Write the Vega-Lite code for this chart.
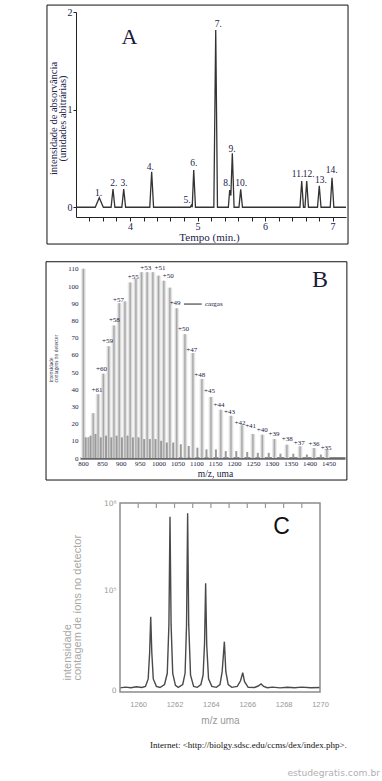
{
"$schema":"https://vega.github.io/schema/vega-lite/v6.json",
"padding":0,
"background":"white",
"spacing":0,
"bounds":"flush",
"config":{"view":{"stroke":null},"axis":{"grid":false,"labelFlush":false,"labelOverlap":false,"titleFontWeight":"normal"}},
"vconcat":[
{
"width":382,"height":250,
"layer":[
{"data":{"values":[
{"t":3.2,"v":0},{"t":3.485,"v":0},{"t":3.545,"v":0.097},{"t":3.605,"v":0},{"t":3.72,"v":0},{"t":3.748,"v":0.186},{"t":3.776,"v":0},{"t":3.879,"v":0},{"t":3.907,"v":0.186},{"t":3.935,"v":0},{"t":4.293,"v":0},{"t":4.321,"v":0.364},{"t":4.349,"v":0},{"t":4.892,"v":0},{"t":4.908,"v":0.02},{"t":4.922,"v":0},{"t":4.944,"v":0.381},{"t":4.97,"v":0},{"t":5.242,"v":0},{"t":5.27,"v":1.815},{"t":5.296,"v":0},{"t":5.457,"v":0},{"t":5.477,"v":0.176},{"t":5.494,"v":0.12},{"t":5.516,"v":0.552},{"t":5.542,"v":0},{"t":5.614,"v":0},{"t":5.64,"v":0.183},{"t":5.666,"v":0},{"t":6.518,"v":0},{"t":6.544,"v":0.268},{"t":6.57,"v":0},{"t":6.592,"v":0},{"t":6.618,"v":0.268},{"t":6.644,"v":0},{"t":6.778,"v":0},{"t":6.804,"v":0.22},{"t":6.83,"v":0},{"t":6.966,"v":0},{"t":6.993,"v":0.302},{"t":7.02,"v":0},{"t":7.2,"v":0}]},
 "mark":{"type":"line","color":"#333","strokeWidth":1.3},
 "encoding":{
 "x":{"field":"t","type":"quantitative","scale":{"domain":[3.2,7.2],"range":[76,346],"nice":false,"zero":false},
  "axis":{"orient":"bottom","offset":-33,"values":[3.4,3.6,3.8,4,4.2,4.4,4.6,4.8,5,5.2,5.4,5.6,5.8,6,6.2,6.4,6.6,6.8,7],"tickCount":100,"labelExpr":"datum.value % 1 == 0 ? format(datum.value, 'd') : ''","labelOverlap":false,"labelFlush":false,"domainColor":"#222","tickColor":"#222","tickSize":4,"labelFont":"Liberation Serif","labelFontSize":10,"labelColor":"#22224a","labelPadding":0,"title":"Tempo (min.)","titleFont":"Liberation Serif","titleFontSize":11,"titleColor":"#22224a","titleX":209,"titleY":20,"titleBaseline":"middle","titleAlign":"center","titleAngle":0}},
 "y":{"field":"v","type":"quantitative","scale":{"domain":[-0.1,2],"range":[217,12],"nice":false,"zero":false},
  "axis":{"orient":"left","offset":-76,"values":[0,1,2],"tickCount":100,"labelExpr":"format(datum.value, 'd')","labelOverlap":false,"labelFlush":false,"tickSize":3,"domainColor":"#222","tickColor":"#222","labelFont":"Liberation Serif","labelFontSize":10,"labelColor":"#22224a","labelPadding":1,"title":["intensidade de absorvância","(unidades abitrárias)"],"titleFont":"Liberation Serif","titleFontSize":10.5,"titleColor":"#22224a","titleLineHeight":9,"titleX":-23,"titleY":118,"titleAngle":270,"titleBaseline":"middle","titleAlign":"center"}}}},
{"data":{"values":[{}]},"mark":{"type":"rect","fillOpacity":0,"stroke":"#111","strokeWidth":1},
 "encoding":{"x":{"datum":2.77,"type":"quantitative","scale":{"domain":[3.2,7.2],"range":[76,346],"nice":false,"zero":false}},"x2":{"datum":7.23},
 "y":{"datum":2.071,"type":"quantitative","scale":{"domain":[-0.1,2],"range":[217,12],"nice":false,"zero":false}},"y2":{"datum":-0.377}}},
{"data":{"values":[
{"lab":"1.","t":3.536,"v":0.145},{"lab":"2.","t":3.759,"v":0.245},{"lab":"3.","t":3.911,"v":0.245},{"lab":"4.","t":4.301,"v":0.415},{"lab":"5.","t":4.844,"v":0.074},{"lab":"6.","t":4.944,"v":0.456},{"lab":"7.","t":5.308,"v":1.877},{"lab":"8.","t":5.433,"v":0.245},{"lab":"9.","t":5.511,"v":0.593},{"lab":"10.","t":5.649,"v":0.245},{"lab":"11.","t":6.482,"v":0.34},{"lab":"12.","t":6.648,"v":0.34},{"lab":"13.","t":6.83,"v":0.279},{"lab":"14.","t":6.988,"v":0.381}]},
 "mark":{"type":"text","font":"Liberation Serif","fontSize":9.5,"color":"#22224a","baseline":"middle","align":"center"},
 "encoding":{"x":{"field":"t","type":"quantitative","scale":{"domain":[3.2,7.2],"range":[76,346],"nice":false,"zero":false}},
 "y":{"field":"v","type":"quantitative","scale":{"domain":[-0.1,2],"range":[217,12],"nice":false,"zero":false}},"text":{"field":"lab"}}},
{"data":{"values":[{"lab":"A","t":3.99,"v":1.747}]},
 "mark":{"type":"text","font":"Liberation Serif","fontSize":22,"color":"#1a1a3a","baseline":"middle","align":"center"},
 "encoding":{"x":{"field":"t","type":"quantitative","scale":{"domain":[3.2,7.2],"range":[76,346],"nice":false,"zero":false}},
 "y":{"field":"v","type":"quantitative","scale":{"domain":[-0.1,2],"range":[217,12],"nice":false,"zero":false}},"text":{"field":"lab"}}}
]
},
{
"width":382,"height":240,
"layer":[
{"data":{"name":"peaks","values":[{"mz":801,"h":110},{"mz":814,"h":12},{"mz":827,"h":26},{"mz":840,"h":37},{"mz":854,"h":49},{"mz":868,"h":65},{"mz":882,"h":77},{"mz":896,"h":90},{"mz":911,"h":91},{"mz":925,"h":102},{"mz":940,"h":104},{"mz":955,"h":108},{"mz":970,"h":108},{"mz":985,"h":108},{"mz":1000,"h":106},{"mz":1014,"h":103},{"mz":1030,"h":99},{"mz":1048,"h":87},{"mz":1070,"h":72},{"mz":1091,"h":61},{"mz":1115,"h":46},{"mz":1139,"h":35.5},{"mz":1165,"h":28},{"mz":1192,"h":24.5},{"mz":1221,"h":19},{"mz":1250,"h":14},{"mz":1275,"h":13.5},{"mz":1307,"h":11},{"mz":1340,"h":7.7},{"mz":1375,"h":6.8},{"mz":1412,"h":5.8},{"mz":1446,"h":4.8}]},
 "mark":{"type":"rule","color":"#ececec","strokeWidth":5},
 "encoding":{"x":{"field":"mz","type":"quantitative","scale":{"domain":[792,1494],"range":[80,345],"nice":false,"zero":false},
  "axis":{"orient":"bottom","offset":-32,"values":[800,850,900,950,1000,1050,1100,1150,1200,1250,1300,1350,1400,1450],"tickCount":100,"format":"d","labelOverlap":false,"labelFlush":false,"ticks":false,"domainColor":"#666","domainWidth":2.5,"labelFont":"Liberation Serif","labelFontSize":7,"labelColor":"#1a1a40","labelPadding":1.5,"title":"m/z, uma","titleFont":"Liberation Serif","titleFontSize":9.5,"titleColor":"#1a1a40","titleX":215,"titleY":15,"titleBaseline":"middle","titleAlign":"center","titleAngle":0}},
 "y":{"field":"h","type":"quantitative","scale":{"domain":[0,110],"range":[208,18.8],"nice":false,"zero":false},
  "axis":{"orient":"left","offset":-80,"values":[0,10,20,30,40,50,60,70,80,90,100,110],"tickCount":100,"format":"d","labelOverlap":false,"labelFlush":false,"ticks":false,"domain":false,"labelFont":"Liberation Serif","labelFontSize":7,"labelColor":"#1a1a40","labelPadding":2,"title":["intensidade","contagens no detector"],"titleFont":"Liberation Serif","titleFontSize":5.5,"titleColor":"#1a1a40","titleLineHeight":4.6,"titleX":-29.3,"titleY":132,"titleAngle":270,"titleAlign":"left","titleBaseline":"middle"}},
 "y2":{"datum":0}}},
{"data":{"values":[{}]},"mark":{"type":"rect","fillOpacity":0,"stroke":"#111","strokeWidth":1},
 "encoding":{"x":{"datum":702,"type":"quantitative","scale":{"domain":[792,1494],"range":[80,345],"nice":false,"zero":false}},"x2":{"datum":1499},
 "y":{"datum":114.1,"type":"quantitative","scale":{"domain":[0,110],"range":[208,18.8],"nice":false,"zero":false}},"y2":{"datum":-12.8}}},
{"data":{"name":"peaks"},"mark":{"type":"rule","color":"#d4d4d4","strokeWidth":3},
 "encoding":{"x":{"field":"mz","type":"quantitative","scale":{"domain":[792,1494],"range":[80,345],"nice":false,"zero":false}},
 "y":{"field":"h","type":"quantitative","scale":{"domain":[0,110],"range":[208,18.8],"nice":false,"zero":false}},"y2":{"datum":0}}},
{"data":{"name":"peaks"},"mark":{"type":"rule","color":"#a8a8a8","strokeWidth":1.3},
 "encoding":{"x":{"field":"mz","type":"quantitative","scale":{"domain":[792,1494],"range":[80,345],"nice":false,"zero":false}},
 "y":{"field":"h","type":"quantitative","scale":{"domain":[0,110],"range":[208,18.8],"nice":false,"zero":false}},"y2":{"datum":0}}},
{"data":{"values":[{"mz":807,"s":12},{"mz":820,"s":13},{"mz":833,"s":14},{"mz":847,"s":12},{"mz":861,"s":13},{"mz":875,"s":12},{"mz":889,"s":13},{"mz":903,"s":12},{"mz":918,"s":13},{"mz":932,"s":12},{"mz":947,"s":12},{"mz":962,"s":11},{"mz":977,"s":11},{"mz":992,"s":11},{"mz":1007,"s":10},{"mz":1022,"s":9},{"mz":1039,"s":9},{"mz":1059,"s":8},{"mz":1080,"s":7},{"mz":1103,"s":6},{"mz":1127,"s":5},{"mz":1152,"s":5},{"mz":1178,"s":4},{"mz":1206,"s":4},{"mz":1235,"s":3.5},{"mz":1263,"s":3},{"mz":1292,"s":3},{"mz":1323,"s":2.5},{"mz":1357,"s":2.5},{"mz":1393,"s":2},{"mz":1430,"s":2}]},
 "mark":{"type":"rule","color":"#9a9a9a","strokeWidth":2},
 "encoding":{"x":{"field":"mz","type":"quantitative","scale":{"domain":[792,1494],"range":[80,345],"nice":false,"zero":false}},
 "y":{"field":"s","type":"quantitative","scale":{"domain":[0,110],"range":[208,18.8],"nice":false,"zero":false}},"y2":{"datum":0}}},
{"data":{"values":[{"lab":"+61","mz":837,"ly":39.5},{"lab":"+60","mz":849,"ly":52},{"lab":"+59","mz":865,"ly":68},{"lab":"+58","mz":883,"ly":80},{"lab":"+57","mz":894,"ly":92},{"lab":"+55","mz":933,"ly":105},{"lab":"+53","mz":966,"ly":110.3},{"lab":"+51","mz":1004,"ly":110.3},{"lab":"+50","mz":1026,"ly":105.6},{"lab":"+49","mz":1044,"ly":90.3},{"lab":"+50","mz":1066,"ly":75.2},{"lab":"+47","mz":1088,"ly":63},{"lab":"+48","mz":1109,"ly":48.4},{"lab":"+45","mz":1135,"ly":38.8},{"lab":"+44","mz":1160,"ly":31},{"lab":"+43","mz":1188,"ly":26.7},{"lab":"+42","mz":1216,"ly":20.5},{"lab":"+41","mz":1244,"ly":18.6},{"lab":"+40","mz":1275,"ly":16.3},{"lab":"+39","mz":1306,"ly":13.8},{"lab":"+38","mz":1341,"ly":11},{"lab":"+37","mz":1373,"ly":8.5},{"lab":"+36","mz":1412,"ly":8.1},{"lab":"+35","mz":1444,"ly":6}]},
 "mark":{"type":"text","font":"Liberation Serif","fontSize":7,"color":"#1a1a40","baseline":"middle","align":"center"},
 "encoding":{"x":{"field":"mz","type":"quantitative","scale":{"domain":[792,1494],"range":[80,345],"nice":false,"zero":false}},
 "y":{"field":"ly","type":"quantitative","scale":{"domain":[0,110],"range":[208,18.8],"nice":false,"zero":false}},"text":{"field":"lab"}}},
{"data":{"values":[{}]},"mark":{"type":"rule","color":"#222","strokeWidth":1},
 "encoding":{"x":{"datum":1067.5,"type":"quantitative","scale":{"domain":[792,1494],"range":[80,345],"nice":false,"zero":false}},"x2":{"datum":1114.4},
 "y":{"datum":89.5,"type":"quantitative","scale":{"domain":[0,110],"range":[208,18.8],"nice":false,"zero":false}}}},
{"data":{"values":[{"lab":"cargas","mz":1123,"ly":89.5}]},
 "mark":{"type":"text","font":"Liberation Serif","fontSize":7,"color":"#1a1a40","baseline":"middle","align":"left"},
 "encoding":{"x":{"field":"mz","type":"quantitative","scale":{"domain":[792,1494],"range":[80,345],"nice":false,"zero":false}},
 "y":{"field":"ly","type":"quantitative","scale":{"domain":[0,110],"range":[208,18.8],"nice":false,"zero":false}},"text":{"field":"lab"}}},
{"data":{"values":[{"lab":"B","mz":1427.8,"ly":103.5}]},
 "mark":{"type":"text","font":"Liberation Serif","fontSize":24,"color":"#1a1a3a","baseline":"middle","align":"center"},
 "encoding":{"x":{"field":"mz","type":"quantitative","scale":{"domain":[792,1494],"range":[80,345],"nice":false,"zero":false}},
 "y":{"field":"ly","type":"quantitative","scale":{"domain":[0,110],"range":[208,18.8],"nice":false,"zero":false}},"text":{"field":"lab"}}}
]
},
{
"width":382,"height":291,
"layer":[
{"data":{"values":[
{"m":1259.0,"i":0.012},{"m":1259.3,"i":0.016},{"m":1259.6,"i":0.013},{"m":1259.9,"i":0.018},{"m":1260.2,"i":0.014},{"m":1260.4,"i":0.02},{"m":1260.55,"i":0.06},{"m":1260.63,"i":0.2},{"m":1260.69,"i":0.392},{"m":1260.75,"i":0.2},{"m":1260.83,"i":0.06},{"m":1261.0,"i":0.02},{"m":1261.2,"i":0.014},{"m":1261.45,"i":0.03},{"m":1261.6,"i":0.09},{"m":1261.69,"i":0.35},{"m":1261.75,"i":0.927},{"m":1261.81,"i":0.35},{"m":1261.9,"i":0.09},{"m":1262.05,"i":0.025},{"m":1262.2,"i":0.015},{"m":1262.45,"i":0.03},{"m":1262.58,"i":0.09},{"m":1262.66,"i":0.35},{"m":1262.72,"i":0.945},{"m":1262.78,"i":0.35},{"m":1262.88,"i":0.08},{"m":1263.05,"i":0.02},{"m":1263.25,"i":0.015},{"m":1263.45,"i":0.03},{"m":1263.57,"i":0.08},{"m":1263.65,"i":0.25},{"m":1263.71,"i":0.571},{"m":1263.77,"i":0.24},{"m":1263.87,"i":0.06},{"m":1264.05,"i":0.02},{"m":1264.3,"i":0.015},{"m":1264.5,"i":0.03},{"m":1264.62,"i":0.1},{"m":1264.74,"i":0.259},{"m":1264.82,"i":0.1},{"m":1264.95,"i":0.03},{"m":1265.15,"i":0.015},{"m":1265.45,"i":0.02},{"m":1265.63,"i":0.05},{"m":1265.75,"i":0.093},{"m":1265.85,"i":0.045},{"m":1266.05,"i":0.015},{"m":1266.4,"i":0.014},{"m":1266.6,"i":0.022},{"m":1266.76,"i":0.033},{"m":1266.9,"i":0.02},{"m":1267.1,"i":0.013},{"m":1267.4,"i":0.016},{"m":1267.8,"i":0.012},{"m":1268.2,"i":0.015},{"m":1268.6,"i":0.013},{"m":1269.0,"i":0.016},{"m":1269.5,"i":0.013},{"m":1270.0,"i":0.014}]},
 "mark":{"type":"line","color":"#4a4a4a","strokeWidth":1.4},
 "encoding":{"x":{"field":"m","type":"quantitative","scale":{"domain":[1259,1270],"range":[120,320],"nice":false,"zero":false},
  "axis":{"orient":"bottom","offset":-89,"values":[1260,1262,1264,1266,1268,1270],"tickCount":100,"format":"d","labelOverlap":false,"labelFlush":false,"ticks":false,"domain":false,"labelFont":"Liberation Sans","labelFontSize":7.5,"labelColor":"#999","labelPadding":8,"title":"m/z uma","titleFont":"Liberation Sans","titleFontSize":10,"titleColor":"#999","titleX":220,"titleY":28,"titleBaseline":"middle","titleAlign":"center","titleAngle":0}},
 "y":{"field":"i","type":"quantitative","scale":{"domain":[-0.01,1],"range":[202,13],"nice":false,"zero":false},
  "axis":{"orient":"left","offset":-120,"values":[0,0.53,1],"tickCount":100,"labelExpr":"datum.value == 0 ? '0' : (datum.value == 1 ? '10⁸' : '10⁵')","labelOverlap":false,"labelFlush":false,"ticks":false,"domain":false,"labelFont":"DejaVu Sans","labelFontSize":7.5,"labelColor":"#999","labelPadding":4,"title":["intensidade","contagem de íons no detector"],"titleFont":"Liberation Sans","titleFontSize":11,"titleColor":"#a8a8a8","titleLineHeight":10,"titleX":-53,"titleY":190,"titleAngle":270,"titleAlign":"left","titleBaseline":"middle"}}}},
{"data":{"values":[{}]},"mark":{"type":"rect","fillOpacity":0,"stroke":"#8c8c8c","strokeWidth":1.5},
 "encoding":{"x":{"datum":1259,"type":"quantitative","scale":{"domain":[1259,1270],"range":[120,320],"nice":false,"zero":false}},"x2":{"datum":1270},
 "y":{"datum":1,"type":"quantitative","scale":{"domain":[-0.01,1],"range":[202,13],"nice":false,"zero":false}},"y2":{"datum":-0.01}}},
{"data":{"values":[{"m":1260},{"m":1261},{"m":1262},{"m":1263},{"m":1264},{"m":1265},{"m":1266},{"m":1267},{"m":1268},{"m":1269}]},
 "mark":{"type":"rule","color":"#999","strokeWidth":1.2},
 "encoding":{"x":{"field":"m","type":"quantitative","scale":{"domain":[1259,1270],"range":[120,320],"nice":false,"zero":false}},
 "y":{"datum":1,"type":"quantitative","scale":{"domain":[-0.01,1],"range":[202,13],"nice":false,"zero":false}},"y2":{"datum":0.973}}},
{"data":{"values":[{"lab":"C","m":1267.89,"i":0.873}]},
 "mark":{"type":"text","font":"Liberation Sans","fontSize":23,"color":"#111","baseline":"middle","align":"center"},
 "encoding":{"x":{"field":"m","type":"quantitative","scale":{"domain":[1259,1270],"range":[120,320],"nice":false,"zero":false}},
 "y":{"field":"i","type":"quantitative","scale":{"domain":[-0.01,1],"range":[202,13],"nice":false,"zero":false}},"text":{"field":"lab"}}},
{"data":{"values":[{}]},
 "mark":{"type":"text","font":"Liberation Serif","fontSize":9,"color":"#111","baseline":"middle","align":"left","text":"Internet: <http://biolgy.sdsc.edu/ccms/dex/index.php>."},
 "encoding":{"x":{"datum":1260.65,"type":"quantitative","scale":{"domain":[1259,1270],"range":[120,320],"nice":false,"zero":false}},
 "y":{"datum":-0.293,"type":"quantitative","scale":{"domain":[-0.01,1],"range":[202,13],"nice":false,"zero":false}}}},
{"data":{"values":[{}]},
 "mark":{"type":"text","font":"DejaVu Sans","fontSize":9.2,"color":"#b0b0b0","baseline":"middle","align":"right","text":"estudegratis.com.br"},
 "encoding":{"x":{"datum":1273.3,"type":"quantitative","scale":{"domain":[1259,1270],"range":[120,320],"nice":false,"zero":false}},
 "y":{"datum":-0.443,"type":"quantitative","scale":{"domain":[-0.01,1],"range":[202,13],"nice":false,"zero":false}}}}
]
}
]
}
